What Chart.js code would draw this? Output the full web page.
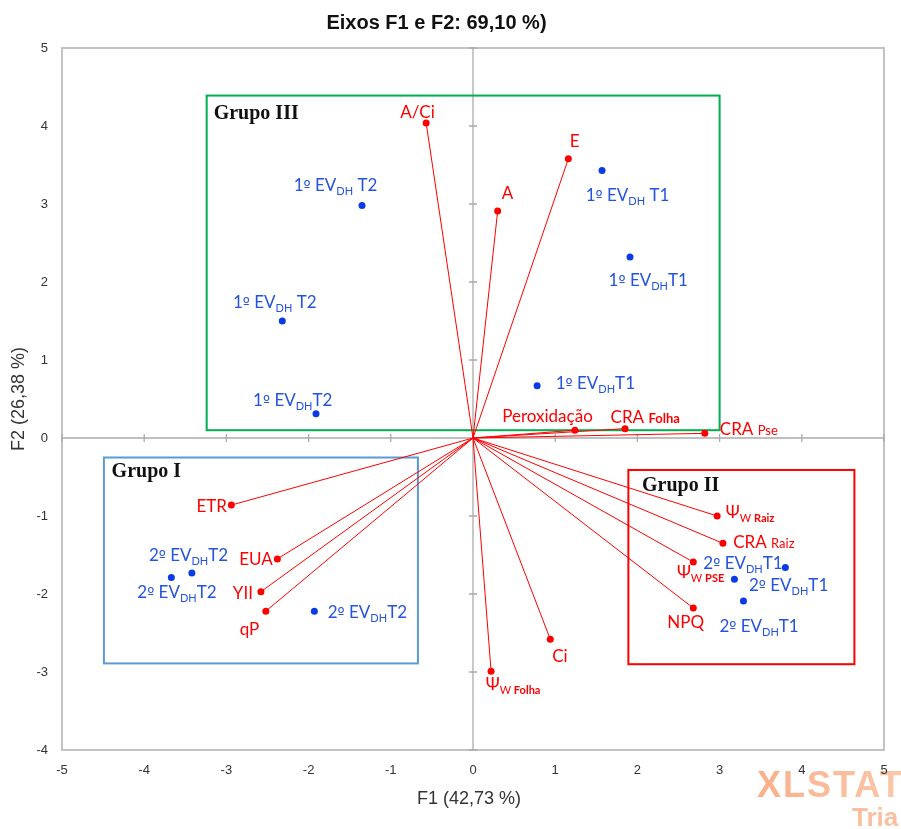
<!DOCTYPE html>
<html>
<head>
<meta charset="utf-8">
<script src="https://cdn.jsdelivr.net/npm/chart.js@4.4.1/dist/chart.umd.min.js"></script>
<style>
  html, body { margin: 0; padding: 0; background: #fff; }
  canvas { display: block; }
</style>
</head>
<body>
<canvas id="biplot" width="901" height="829"></canvas>
<script>
// ---- Variables (loadings on F1 / F2) ----
// Label markup: parts split by '|'; '_' = subscript, '=' = bold subscript,
// '~' = small text on the baseline, '+' = small bold text on the baseline,
// '#' = normal size in the fallback font (ordinal sign).
const varLabels = ['A/Ci', 'E', 'A', 'Peroxidação', 'CRA |+Folha', 'CRA |~Pse', 'ETR', 'EUA', 'YII', 'qP',
                   'Ψ|_W |=Raiz', 'CRA |~Raiz', 'Ψ|_W |=PSE', 'NPQ', 'Ci', 'Ψ|_W |=Folha'];
const varF1 = [-0.57, 1.16, 0.30, 1.24, 1.85, 2.82, -2.94, -2.38, -2.58, -2.52, 2.97, 3.04, 2.68, 2.68, 0.94, 0.22];
const varF2 = [4.04, 3.58, 2.91, 0.10, 0.12, 0.06, -0.86, -1.55, -1.97, -2.22, -1.00, -1.35, -1.59, -2.18, -2.58, -2.99];

// ---- Observations (scores on F1 / F2) ----
const obsLabels = ['1|#º| EV|_DH| T2', '1|#º| EV|_DH| T1', '1|#º| EV|_DH|T1', '1|#º| EV|_DH| T2', '1|#º| EV|_DH|T1', '1|#º| EV|_DH|T2',
                   '2|#º| EV|_DH|T2', '2|#º| EV|_DH|T2', '2|#º| EV|_DH|T2', '2|#º| EV|_DH|T1', '2|#º| EV|_DH|T1', '2|#º| EV|_DH|T1'];
const obsF1 = [-1.35, 1.57, 1.91, -2.32, 0.78, -1.91, -3.42, -3.67, -1.93, 3.80, 3.18, 3.29];
const obsF2 = [2.98, 3.43, 2.32, 1.50, 0.67, 0.31, -1.73, -1.79, -2.22, -1.66, -1.81, -2.09];

// ---- Groups (rectangles in F1 / F2 units) ----
const groupNames = ['Grupo I', 'Grupo II', 'Grupo III'];
const groupF1Min = [-4.49, 1.89, -3.24];
const groupF1Max = [-0.67, 4.64, 3.00];
const groupF2Min = [-2.89, -2.90, 0.10];
const groupF2Max = [-0.25, -0.41, 4.39];

// ---- Axis ticks ----
const f1Ticks = [-5, -4, -3, -2, -1, 0, 1, 2, 3, 4, 5];
const f2Ticks = [-4, -3, -2, -1, 0, 1, 2, 3, 4, 5];

const chartTitle = 'Eixos F1 e F2: 69,10 %)';
const f1Title = 'F1 (42,73 %)';
const f2Title = 'F2 (26,38 %)';

// ---- Styling ----
const RED = '#ff0000';
const BLUE_PT = '#0a3be6';
const BLUE_TXT = '#2453e0';
const GROUP_COLORS = ['#5b9bd5', '#ff0000', '#00b050'];
const GROUP_TITLE_OFFSET = [[7.7, 14.4], [13.7, 15.7], [7, 18]];
const LABEL_FONT = "Lato, 'Noto Sans', 'DejaVu Sans', sans-serif";
const ALT_FONT = "'DejaVu Sans', 'Noto Sans', sans-serif";
const AXIS_FONT = "'Liberation Sans', Arial, sans-serif";
const MAIN_SIZE = 17;

// label placement: [dx, dy (to cap centre), align]
const varPlace = [[-8.6, -11.2, 'center'], [6.4, -17.9, 'center'], [9.9, -18.3, 'center'], [-72.7, -14.6, 'left'],
                  [-14.5, -12, 'left'], [15, -4.6, 'left'], [-4.4, 1, 'right'], [-4.6, 0, 'right'], [-8, 1.3, 'right'],
                  [-16.4, 17.3, 'center'], [8.7, -3.7, 'left'], [10.3, -1.3, 'left'], [-16.3, 9.7, 'left'],
                  [-7.7, 14, 'center'], [9.7, 17, 'center'], [-5.3, 13, 'left']];
const obsPlace = [[-68.3, -20.9, 'left'], [-16.3, 24, 'left'], [-21.4, 22.4, 'left'], [-49.3, -19.3, 'left'],
                  [18.6, -3.3, 'left'], [-62.9, -13.9, 'left'], [-43, -18.3, 'left'], [-34, 14.6, 'left'],
                  [13.4, 1, 'left'], [-82, -5, 'left'], [14.6, 5.3, 'left'], [-24, 24.7, 'left']];

function parseRich(str) {
  return str.split('|').map(p => {
    const k = p[0];
    if (k === '_') return { t: p.slice(1), size: 11, bold: false, drop: 4, fam: LABEL_FONT };
    if (k === '=') return { t: p.slice(1), size: 11, bold: true, drop: 4, fam: LABEL_FONT };
    if (k === '~') return { t: p.slice(1), size: 13, bold: false, drop: 0, fam: LABEL_FONT };
    if (k === '+') return { t: p.slice(1), size: 13, bold: true, drop: 0, fam: LABEL_FONT };
    if (k === '#') return { t: p.slice(1), size: MAIN_SIZE - 2, bold: false, drop: 0, fam: ALT_FONT };
    return { t: p, size: MAIN_SIZE, bold: false, drop: 0, fam: LABEL_FONT };
  });
}

function drawRich(ctx, str, x, capY, align, color) {
  const parts = parseRich(str);
  let total = 0;
  parts.forEach(p => {
    ctx.font = (p.bold ? 'bold ' : '') + p.size + 'px ' + p.fam;
    p.w = ctx.measureText(p.t).width;
    total += p.w;
  });
  let cx = align === 'left' ? x : align === 'center' ? x - total / 2 : x - total;
  const baseline = capY + MAIN_SIZE * 0.36;
  ctx.fillStyle = color;
  ctx.textAlign = 'left';
  ctx.textBaseline = 'alphabetic';
  parts.forEach(p => {
    ctx.font = (p.bold ? 'bold ' : '') + p.size + 'px ' + p.fam;
    ctx.fillText(p.t, cx, baseline + p.drop);
    cx += p.w;
  });
}

// ---- Datasets: one vector per variable, plus the observations ----
const datasets = varF1.map((v, i) => ({
  type: 'line',
  label: varLabels[i],
  data: [{ x: 0, y: 0 }, { x: varF1[i], y: varF2[i] }],
  borderColor: RED,
  borderWidth: 1,
  pointRadius: [0, 3.5],
  pointBackgroundColor: RED,
  pointBorderColor: RED,
  pointBorderWidth: 0,
  fill: false,
  tension: 0,
  order: 2
}));
datasets.push({
  type: 'scatter',
  label: 'Observações',
  data: obsF1.map((v, i) => ({ x: v, y: obsF2[i] })),
  pointRadius: 3.5,
  pointBackgroundColor: BLUE_PT,
  pointBorderColor: BLUE_PT,
  pointBorderWidth: 0,
  order: 1
});

const backgroundPlugin = {
  id: 'background',
  beforeDraw(chart) {
    const ctx = chart.ctx;
    ctx.save();
    ctx.fillStyle = '#fff';
    ctx.fillRect(0, 0, chart.width, chart.height);
    // trial watermark
    const g = ctx.createLinearGradient(757, 0, 901, 0);
    g.addColorStop(0, 'rgba(247,150,100,0.75)');
    g.addColorStop(1, 'rgba(250,180,140,0.75)');
    ctx.fillStyle = g;
    ctx.font = 'bold 36px ' + AXIS_FONT;
    ctx.letterSpacing = '2px';
    ctx.textBaseline = 'alphabetic';
    ctx.textAlign = 'left';
    ctx.fillText('XLSTAT', 757, 797);
    ctx.font = 'bold 26px ' + AXIS_FONT;
    ctx.letterSpacing = '0px';
    ctx.fillStyle = 'rgba(248,170,125,0.75)';
    ctx.fillText('Tria', 852, 826);
    ctx.restore();
  }
};

const framePlugin = {
  id: 'frame',
  beforeDatasetsDraw(chart) {
    const { ctx, chartArea: a, scales: { x, y } } = chart;
    const x0 = x.getPixelForValue(0), y0 = y.getPixelForValue(0);
    ctx.save();
    // outer frame
    ctx.strokeStyle = '#c3c3c3';
    ctx.lineWidth = 2;
    ctx.strokeRect(a.left, a.top, a.right - a.left, a.bottom - a.top);
    // axes through the origin
    ctx.strokeStyle = '#ababab';
    ctx.lineWidth = 1.3;
    ctx.beginPath();
    ctx.moveTo(x0, a.top); ctx.lineTo(x0, a.bottom);
    ctx.moveTo(a.left, y0); ctx.lineTo(a.right, y0);
    f2Ticks.forEach(v => { const py = y.getPixelForValue(v); ctx.moveTo(x0 - 4, py); ctx.lineTo(x0 + 4, py); });
    f1Ticks.forEach(v => { const px = x.getPixelForValue(v); ctx.moveTo(px, y0 - 4); ctx.lineTo(px, y0 + 4); });
    ctx.stroke();
    // group rectangles
    groupNames.forEach((name, i) => {
      const l = x.getPixelForValue(groupF1Min[i]), r = x.getPixelForValue(groupF1Max[i]);
      const t = y.getPixelForValue(groupF2Max[i]), b = y.getPixelForValue(groupF2Min[i]);
      ctx.strokeStyle = GROUP_COLORS[i];
      ctx.lineWidth = 2;
      ctx.strokeRect(l, t, r - l, b - t);
      ctx.fillStyle = '#111';
      ctx.font = "bold 20px 'Liberation Serif', 'Times New Roman', serif";
      ctx.textAlign = 'left';
      ctx.textBaseline = 'middle';
      ctx.fillText(name, l + GROUP_TITLE_OFFSET[i][0], t + GROUP_TITLE_OFFSET[i][1]);
    });
    ctx.restore();
  }
};

const labelPlugin = {
  id: 'labels',
  afterDatasetsDraw(chart) {
    const { ctx, scales: { x, y } } = chart;
    ctx.save();
    varLabels.forEach((lab, i) => {
      const px = x.getPixelForValue(varF1[i]), py = y.getPixelForValue(varF2[i]);
      const p = varPlace[i];
      drawRich(ctx, lab, px + p[0], py + p[1], p[2], RED);
    });
    obsLabels.forEach((lab, i) => {
      const px = x.getPixelForValue(obsF1[i]), py = y.getPixelForValue(obsF2[i]);
      const p = obsPlace[i];
      drawRich(ctx, lab, px + p[0], py + p[1], p[2], BLUE_TXT);
    });
    ctx.restore();
  },
  afterDraw(chart) {
    const { ctx, chartArea: a } = chart;
    ctx.save();
    ctx.fillStyle = '#111';
    ctx.textAlign = 'center';
    ctx.textBaseline = 'middle';
    ctx.font = 'bold 20px ' + AXIS_FONT;
    ctx.fillText(chartTitle, 436.5, 23);
    ctx.fillStyle = '#333';
    ctx.font = '18px ' + AXIS_FONT;
    ctx.fillText(f1Title, 469, 799);
    ctx.translate(19, (a.top + a.bottom) / 2);
    ctx.rotate(-Math.PI / 2);
    ctx.fillText(f2Title, 0, 0);
    ctx.restore();
  }
};

new Chart(document.getElementById('biplot'), {
  type: 'scatter',
  data: { datasets },
  options: {
    responsive: false,
    animation: false,
    layout: { padding: { top: 48, right: 17, bottom: 0, left: 0 } },
    plugins: { legend: { display: false }, tooltip: { enabled: false }, title: { display: false } },
    scales: {
      x: {
        type: 'linear', min: f1Ticks[0], max: f1Ticks[f1Ticks.length - 1],
        afterBuildTicks(s) { s.ticks = f1Ticks.map(v => ({ value: v })); },
        ticks: { color: '#333', font: { family: AXIS_FONT, size: 13 }, padding: 13, maxRotation: 0 },
        grid: { display: false, drawTicks: false },
        border: { display: false },
        afterFit(s) { s.height = 79; }
      },
      y: {
        type: 'linear', min: f2Ticks[0], max: f2Ticks[f2Ticks.length - 1],
        afterBuildTicks(s) { s.ticks = f2Ticks.map(v => ({ value: v })); },
        ticks: { color: '#333', font: { family: AXIS_FONT, size: 13 }, padding: 14 },
        grid: { display: false, drawTicks: false },
        border: { display: false },
        afterFit(s) { s.width = 62; }
      }
    }
  },
  plugins: [backgroundPlugin, framePlugin, labelPlugin]
});
</script>
</body>
</html>
